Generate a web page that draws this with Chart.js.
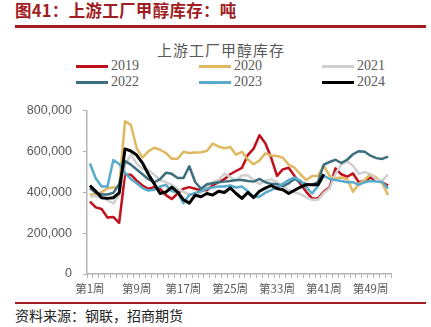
<!DOCTYPE html>
<html lang="zh-CN">
<head>
<meta charset="UTF-8">
<title>上游工厂甲醇库存</title>
<script src="https://cdn.jsdelivr.net/npm/chart.js"></script>
<style>
  body { margin: 0; width: 431px; height: 327px; background: #fff; position: relative; overflow: hidden; font-family: "Noto Sans CJK SC", sans-serif; }
  .titulo { position: absolute; left: 15px; top: 0px; font-size: 16.5px; font-weight: bold; color: #a11c22; letter-spacing: 0.3px; line-height: 20px; }
  .linha { position: absolute; left: 15px; width: 411px; height: 2.5px; background: #a31e22; }
  .subtitulo { position: absolute; left: 0; width: 442px; top: 40px; text-align: center; font-size: 15px; color: #595959; letter-spacing: 1px; line-height: 20px; }
  .item { position: absolute; height: 16px; font-family: "Liberation Serif", serif; font-size: 14px; color: #595959; line-height: 16px; }
  .item .traco { position: absolute; left: 0; top: 7px; width: 32px; height: 2.5px; }
  .item span { position: absolute; left: 35px; top: 0; }
  .fonte { position: absolute; left: 15px; top: 306px; font-size: 14px; color: #222; line-height: 18px; }
  #grafico { position: absolute; left: 0; top: 92px; width: 431px; height: 206px; }
</style>
</head>
<body>
  <div class="titulo">图41：上游工厂甲醇库存：吨</div>
  <div class="linha" style="top: 25px;"></div>
  <div class="subtitulo">上游工厂甲醇库存</div>
  <div id="legenda"></div>
  <div id="grafico"><canvas id="myChartCanvas"></canvas></div>
  <div class="linha" style="top: 302px; height: 2px;"></div>
  <div class="fonte">资料来源：钢联，招商期货</div>

<script>
  // semanas 1..52
  const semanas = Array.from({ length: 52 }, (_, i) => `第${i + 1}周`);

  const anos = ['2019', '2020', '2021', '2022', '2023', '2024'];
  const cores = ['#c0101c', '#e0b862', '#d0d0d0', '#3d6e7e', '#58abcb', '#000000'];

  const estoque2019 = [354000, 326000, 318000, 276000, 279000, 250000, 486000, 486000, 457000, 433000, 417000, 425000, 417000, 386000, 367000, 394000, 417000, 425000, 417000, 410000,
    410000, 433000, 449000, 464000, 488000, 504000, 519000, 582000, 613000, 679000, 640000, 570000, 480000, 512000, 520000, 480000, 441000, 402000, 370000, 370000,
    402000, 425000, 517000, 488000, 476000, 492000, 449000, 457000, 472000, 457000, 449000, 433000];
  const estoque2020 = [389000, 389000, 400000, 420000, 423000, 423000, 747000, 730000, 615000, 570000, 600000, 618000, 608000, 592000, 564000, 564000, 598000, 592000, 594000, 596000,
    602000, 638000, 624000, 615000, 621000, 584000, 598000, 560000, 537000, 556000, 590000, 580000, 577000, 569000, 535000, 520000, 488000, 460000, 480000, 480000,
    530000, 480000, 469000, 472000, 465000, 402000, 441000, 460000, 488000, 472000, 444000, 386000];
  const estoque2021 = [381000, 381000, 373000, 361000, 345000, 386000, 530000, 585000, 540000, 515000, 508000, 486000, 460000, 449000, 436000, 417000, 402000, 389000, 389000, 400000,
    428000, 449000, 460000, 491000, 475000, 455000, 483000, 483000, 460000, 440000, 457000, 463000, 449000, 430000, 410000, 400000, 392000, 375000, 363000, 363000,
    396000, 420000, 490000, 535000, 551000, 530000, 490000, 498000, 490000, 460000, 457000, 486000];
  const estoque2022 = [420000, 397000, 389000, 389000, 397000, 440000, 553000, 535000, 511000, 488000, 464000, 449000, 464000, 495000, 490000, 470000, 470000, 527000, 450000, 417000,
    439000, 444000, 449000, 452000, 455000, 460000, 460000, 455000, 452000, 465000, 449000, 441000, 439000, 430000, 444000, 465000, 449000, 441000, 436000, 450000,
    535000, 548000, 559000, 543000, 559000, 586000, 601000, 598000, 579000, 567000, 563000, 574000];
  const estoque2023 = [541000, 467000, 428000, 428000, 558000, 538000, 496000, 465000, 444000, 420000, 408000, 412000, 428000, 436000, 405000, 401000, 347000, 386000, 397000, 405000,
    417000, 423000, 428000, 428000, 433000, 423000, 428000, 405000, 378000, 378000, 398000, 410000, 425000, 441000, 460000, 472000, 457000, 425000, 394000, 430000,
    480000, 465000, 460000, 455000, 449000, 449000, 436000, 449000, 455000, 452000, 450000, 418000];
  const estoque2024 = [433000, 405000, 373000, 370000, 373000, 397000, 612000, 602000, 582000, 543000, 488000, 441000, 394000, 401000, 425000, 401000, 363000, 347000, 386000, 378000,
    394000, 386000, 405000, 399000, 421000, 394000, 370000, 399000, 374000, 405000, 420000, 433000, 418000, 412000, 394000, 410000, 425000, 437000, 437000, 437000,
    488000];

  const series = [estoque2019, estoque2020, estoque2021, estoque2022, estoque2023, estoque2024];

  // legenda em 3 colunas
  const legenda = document.getElementById('legenda');
  const colunas = [76, 199, 322];
  const linhas = [58, 74];
  anos.forEach(function (ano, i) {
    const item = document.createElement('div');
    item.className = 'item';
    item.style.left = colunas[i % 3] + 'px';
    item.style.top = linhas[Math.floor(i / 3)] + 'px';
    item.innerHTML = `<div class="traco" style="background:${cores[i]}"></div><span>${ano}</span>`;
    legenda.appendChild(item);
  });

  const cinza = '#b3b3b3';
  const texto = '#595959';

  const dados = {
    labels: semanas,
    datasets: anos.map(function (ano, i) {
      return {
        label: ano,
        data: series[i],
        borderColor: cores[i],
        backgroundColor: cores[i],
        borderWidth: i === 5 ? 3 : 2.5,
        order: 5 - i,
        fill: false
      };
    })
  };

  const config = {
    type: 'line',
    data: dados,
    options: {
      responsive: true,
      maintainAspectRatio: false,
      animation: false,
      layout: { padding: { top: 6, right: 40, left: 0, bottom: 0 } },
      plugins: { legend: { display: false }, tooltip: { enabled: false } },
      elements: { point: { radius: 0 }, line: { tension: 0, borderJoinStyle: 'round' } },
      scales: {
        x: {
          offset: true,
          grid: { display: true, drawOnChartArea: false, offset: true, tickLength: 4, color: cinza },
          border: { color: cinza, width: 1.5 },
          ticks: {
            autoSkip: false, maxRotation: 0, padding: 4, color: texto,
            font: { family: 'Noto Sans CJK SC', size: 11.5 },
            callback: function (v, i) { return i % 8 === 0 ? semanas[i] : ''; }
          },
          afterFit: function (s) { s.height = 24; }
        },
        y: {
          min: 0, max: 800000,
          grid: { drawOnChartArea: false, tickLength: 4, color: cinza },
          border: { color: cinza, width: 1.5 },
          ticks: {
            stepSize: 200000, padding: 11, color: texto,
            font: { family: 'Liberation Sans', size: 12.5 },
            callback: function (v) { return v.toLocaleString('en-US'); }
          },
          afterFit: function (s) { s.width = 87; }
        }
      }
    }
  };

  let myChart = new Chart(document.getElementById('myChartCanvas'), config);
</script>
</body>
</html>
